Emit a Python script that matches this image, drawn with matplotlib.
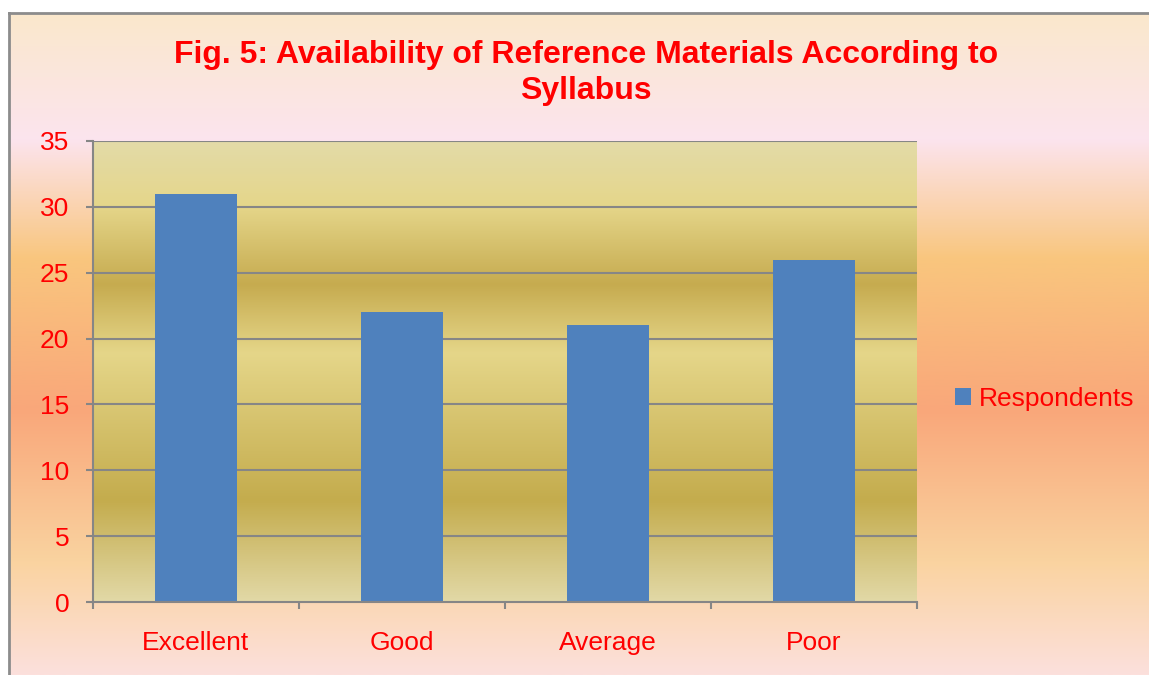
import numpy as np
import matplotlib.pyplot as plt
from matplotlib.colors import LinearSegmentedColormap

categories = ['Excellent', 'Good', 'Average', 'Poor']
respondents = [31, 22, 21, 26]
series_name = 'Respondents'
title = 'Fig. 5: Availability of Reference Materials According to\nSyllabus'
y_ticks = [0, 5, 10, 15, 20, 25, 30, 35]

plt.rcParams['font.family'] = ['Liberation Sans', 'DejaVu Sans']
RED = '#FF0000'
GRID = '#868686'
BAR = '#4F81BD'

fig = plt.figure(figsize=(11.49, 6.75), dpi=100)
fig.patch.set_facecolor('white')

# figure background panel (vertical gradient), starts at the gray border
bg = fig.add_axes([9 / 1149, 0, 1 - 9 / 1149, (675 - 13) / 675], zorder=-10)
bg_cmap = LinearSegmentedColormap.from_list('bg', [
    (0.0, '#FAE8CC'), (0.19, '#FCE4EE'), (0.37, '#F9C67E'),
    (0.60, '#F9A77A'), (0.83, '#FAD3A0'), (1.0, '#FCE0DC')])
bg.imshow(np.linspace(0, 1, 256).reshape(-1, 1), cmap=bg_cmap,
          aspect='auto', extent=[0, 1, 0, 1], origin='upper')
bg.set_xlim(0, 1)
bg.set_ylim(0, 1)
bg.set_xticks([])
bg.set_yticks([])
for side in ['right', 'bottom']:
    bg.spines[side].set_visible(False)
for side in ['left', 'top']:
    bg.spines[side].set_color('#8C8C8C')
    bg.spines[side].set_linewidth(2)

# plot area
ax = fig.add_axes([93 / 1149, 73 / 675, (917 - 93) / 1149, (602 - 141) / 675])
ax.patch.set_alpha(0)
plot_cmap = LinearSegmentedColormap.from_list('plot', [
    (0.0, '#E3DBA8'), (0.14, '#E5D68A'), (0.31, '#C6AB4F'),
    (0.46, '#E5D689'), (0.78, '#C4AC4D'), (1.0, '#E2D9A7')])
n = len(categories)
ax.imshow(np.linspace(0, 1, 256).reshape(-1, 1), cmap=plot_cmap,
          aspect='auto', extent=[-0.5, n - 0.5, 0, 35], origin='upper', zorder=0)

x = np.arange(n)
ax.bar(x, respondents, width=0.4, color=BAR, label=series_name, zorder=3)

ax.set_xlim(-0.5, n - 0.5)
ax.set_ylim(0, 35)
ax.set_yticks(y_ticks)
ax.set_yticklabels([str(v) for v in y_ticks])
ax.set_xticks(x)
ax.set_xticklabels(categories)
ax.set_xticks(np.arange(-0.5, n), minor=True)

for v in y_ticks[1:]:
    ax.axhline(v, color=GRID, linewidth=1.5, zorder=1)

ax.tick_params(axis='y', which='major', length=5, width=1.5, color=GRID,
               pad=12, labelsize=19, labelcolor=RED)
ax.tick_params(axis='x', which='major', length=0, pad=21,
               labelsize=19, labelcolor=RED)
ax.tick_params(axis='x', which='minor', length=5, width=1.5, color=GRID)

for side in ['top', 'right']:
    ax.spines[side].set_visible(False)
for side in ['left', 'bottom']:
    ax.spines[side].set_color(GRID)
    ax.spines[side].set_linewidth(1.5)
    ax.spines[side].set_zorder(4)

fig.text(586 / 1149, 1 - 73 / 675, title, ha='center', va='center',
         multialignment='center', fontsize=23, fontweight='bold',
         color=RED, linespacing=1.28)

leg = ax.legend(loc='center left', bbox_to_anchor=(955 / 1149, 1 - 399 / 675),
                bbox_transform=fig.transFigure, frameon=False, fontsize=19,
                handlelength=0.6, handleheight=0.6, handletextpad=0.3,
                borderpad=0, borderaxespad=0)
for t in leg.get_texts():
    t.set_color(RED)

fig.savefig('out.png', dpi=100)
